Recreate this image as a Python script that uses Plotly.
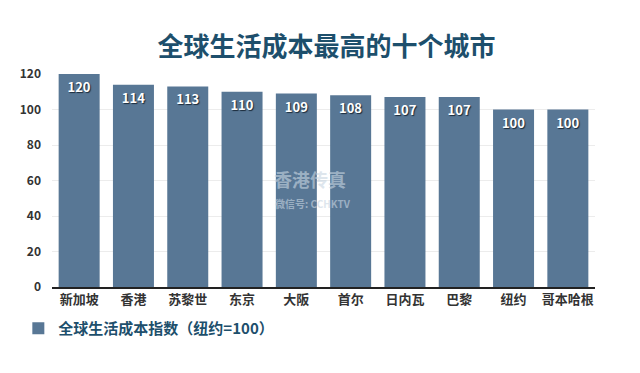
import plotly.graph_objects as go

cities = ["新加坡", "香港", "苏黎世", "东京", "大阪", "首尔", "日内瓦", "巴黎", "纽约", "哥本哈根"]
values = [120, 114, 113, 110, 109, 108, 107, 107, 100, 100]
y_ticks = [0, 20, 40, 60, 80, 100, 120]
title_text = "全球生活成本最高的十个城市"
series_name = "全球生活成本指数（纽约=100）"

FONT = "Noto Sans CJK SC"
BAR = "#587795"
TEAL = "#1d4f6c"

fig = go.Figure()
fig.add_trace(go.Bar(
    x=cities, y=values, name=series_name,
    marker=dict(color=BAR, line=dict(width=0)),
    text=[str(v) for v in values],
    textposition="inside", insidetextanchor="end",
    textfont=dict(family=FONT, size=13, color="white", weight="bold",
                  shadow="1px 1px 1px #1a2a3a"),
    showlegend=True,
))

fig.update_layout(
    width=640, height=373,
    margin=dict(l=52, r=45, t=74, b=86, autoexpand=False),
    paper_bgcolor="white", plot_bgcolor="white",
    bargap=0.245,
    title=dict(text=title_text, x=0.51, xanchor="center", y=0.875, yanchor="middle",
               font=dict(family=FONT, size=26, color=TEAL, weight="bold")),
    xaxis=dict(showline=True, linecolor="#222", linewidth=1.5, ticks="",
               tickfont=dict(family=FONT, size=13, color="#333", weight="bold"),
               showgrid=False, automargin=False),
    yaxis=dict(range=[0, 120], tickvals=y_ticks, showgrid=True, gridcolor="#ececec",
               zeroline=False, showline=False, ticks="", ticklabelstandoff=10,
               automargin=False,
               tickfont=dict(family=FONT, size=12, color="#333", weight="bold")),
    legend=dict(orientation="h", x=-0.062, xanchor="left", y=-0.195, yanchor="middle",
                font=dict(family=FONT, size=15, color=TEAL, weight="bold"),
                itemwidth=30),
    annotations=[
        dict(text="香港传真", x=0.475, y=0.505, xref="paper", yref="paper", showarrow=False,
             font=dict(family=FONT, size=18, color="#c9d6e2", weight="bold"), opacity=0.6),
        dict(text="微信号: CCHKTV", x=0.48, y=0.39, xref="paper", yref="paper", showarrow=False,
             font=dict(family=FONT, size=10, color="#c9d6e2", weight="bold"), opacity=0.6),
    ],
)

fig.write_html("out.html", config={"displayModeBar": False},
               post_script="document.body.style.margin='0';document.body.style.padding='0';")
